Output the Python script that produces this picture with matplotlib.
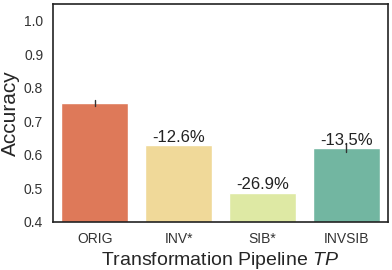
import matplotlib
matplotlib.use("Agg")
import matplotlib.pyplot as plt
import seaborn as sns

# values
pipelines = ["ORIG", "INV*", "SIB*", "INVSIB"]
accuracy = [0.755, 0.630, 0.487, 0.621]
errors = [0.009, 0.0, 0.0, 0.013]
drop_labels = ["", "-12.6%", "-26.9%", "-13.5%"]

sns.set_style("white")
plt.rcParams['font.family'] = ['Liberation Sans', 'DejaVu Sans']
plt.rcParams['mathtext.fontset'] = 'custom'
plt.rcParams['mathtext.it'] = 'Liberation Sans:italic'
plt.rcParams['mathtext.rm'] = 'Liberation Sans'

colors = [sns.desaturate(c, 0.75) for c in sns.color_palette("Spectral", 4)]

fig = plt.figure(figsize=(3.92, 2.70), dpi=100)
ax = fig.add_axes([0.135, 0.178, 0.855, 0.807])

x = range(len(pipelines))
ax.bar(x, accuracy, width=0.8, color=colors)
for i, (v, e) in enumerate(zip(accuracy, errors)):
    if e > 0:
        ax.plot([i, i], [v - e, v + e], color='#333333', lw=1.0)
    if drop_labels[i]:
        ax.text(i, v + 0.001, drop_labels[i], ha='center', va='bottom',
                fontsize=12, color='#222222')

ax.set_xlim(-0.5, 3.5)
ax.set_ylim(0.4, 1.05)
ax.set_yticks([0.4, 0.5, 0.6, 0.7, 0.8, 0.9, 1.0])
ax.set_xticks(list(x))
ax.set_xticklabels(pipelines)
ax.tick_params(labelsize=10, colors='#333333')
ax.set_ylabel("Accuracy", fontsize=15, labelpad=3)
ax.set_xlabel(r"Transformation Pipeline $TP$", fontsize=14, labelpad=3)
for s in ax.spines.values():
    s.set_color('#222222')
    s.set_linewidth(1.2)

fig.savefig("out.png", dpi=100)
